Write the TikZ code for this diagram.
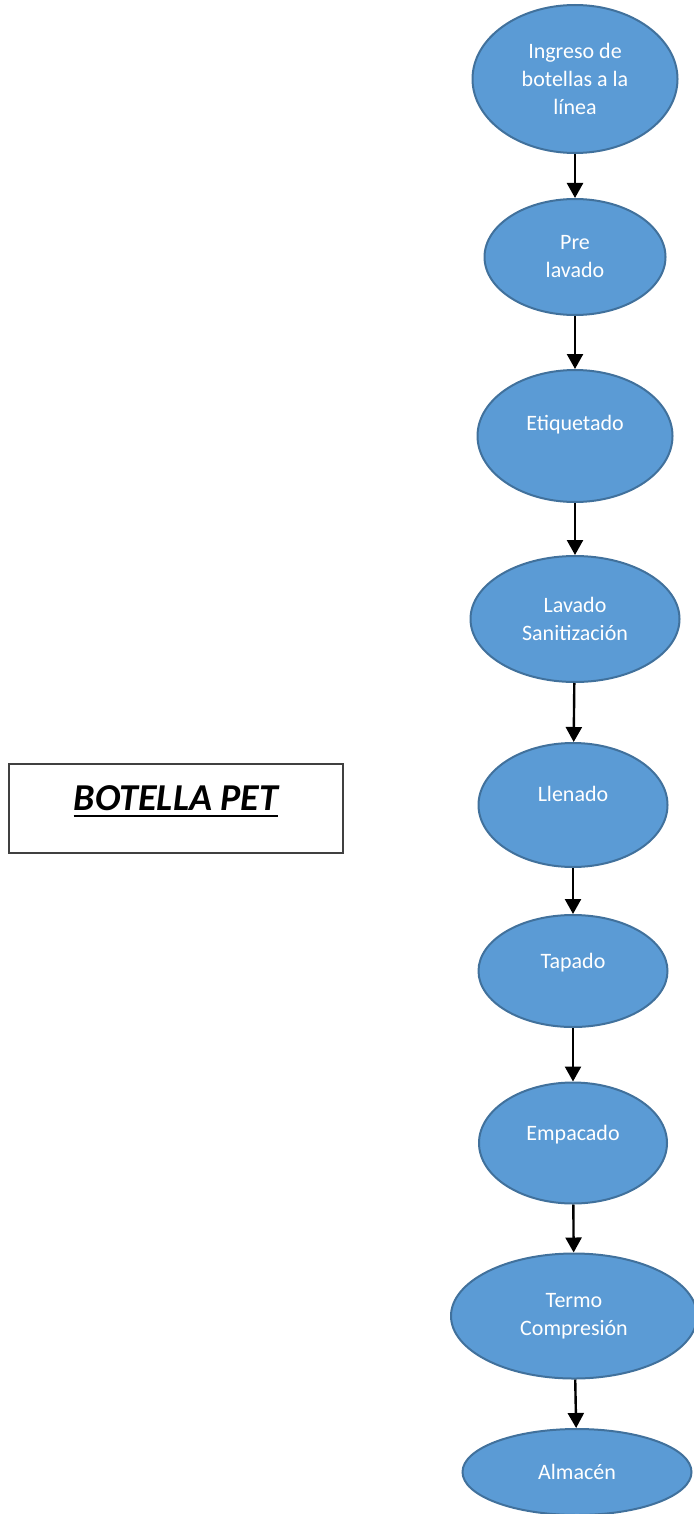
\documentclass[tikz,border=0pt]{standalone}
\usepackage{fontspec}
\setmainfont{Carlito}
\usetikzlibrary{shapes.geometric, arrows.meta, positioning}

\definecolor{pasofill}{HTML}{5B9BD5}
\definecolor{pasoline}{HTML}{41719C}

% thick underline for the title
\newcommand\subrayar[1]{\setbox0\hbox{#1}\leavevmode
  \rlap{\vrule height -2.4pt depth 3.5pt width \wd0}\box0}

\begin{document}
\begin{tikzpicture}[
  x=0.5pt, y=-0.5pt,
  % process ellipse; size given per node
  paso/.style={
    ellipse, draw=pasoline, line width=1pt,
    fill=pasofill, text=white,
    align=center, inner sep=2pt,
    font=\fontsize{11}{14}\selectfont
  },
  % lift text towards the top of the ellipse
  alto/.style={text height=8pt, text depth=#1},
  flecha/.style={-{Triangle[length=7.5pt,width=8pt]}, black, line width=1.2pt},
]
\useasboundingbox (0,0) rectangle (693,1514);

%% -- title box --------------------------------------------------------------
\node[draw=black!75, line width=0.75pt, minimum width=167pt, minimum height=44.5pt,
      text height=13pt, text depth=11.4pt,
      font=\fontsize{19}{22}\selectfont\bfseries\itshape] (titulo) at (176,808.5)
  {\subrayar{BOTELLA PET}};

%% -- process chain ----------------------------------------------------------
\node[paso, minimum width=102.5pt, minimum height=74pt] (ingreso) at (575,79)
  {Ingreso de\\botellas a la\\línea};
\node[paso, minimum width=90.5pt, minimum height=58pt] (prelavado) at (575,257)
  {Pre\\lavado};
\node[paso, alto=14pt, minimum width=97.5pt, minimum height=66pt] (etiquetado) at (575,436)
  {Etiquetado};
\node[paso, minimum width=104.5pt, minimum height=63pt] (lavado) at (575,619)
  {Lavado\\Sanitización};
\node[paso, alto=12pt, minimum width=94.5pt, minimum height=62pt] (llenado) at (573,805)
  {Llenado};
\node[paso, alto=11pt, minimum width=94.5pt, minimum height=56pt] (tapado) at (573,971)
  {Tapado};
\node[paso, alto=11pt, minimum width=94pt, minimum height=60.5pt] (empacado) at (573,1143)
  {Empacado};
\node[paso, minimum width=123pt, minimum height=62.5pt] (termo) at (574,1316)
  {Termo\\Compresión};
\node[paso, minimum width=114.5pt, minimum height=43pt] (almacen) at (577,1472)
  {Almacén};

%% -- arrows -----------------------------------------------------------------
\draw[flecha] (ingreso)    -- (prelavado);
\draw[flecha] (prelavado)  -- (etiquetado);
\draw[flecha] (etiquetado) -- (lavado);
\draw[flecha] (lavado)     -- (llenado);
\draw[flecha] (llenado)    -- (tapado);
\draw[flecha] (tapado)     -- (empacado);
\draw[flecha] (empacado)   -- (termo);
\draw[flecha] (termo)      -- (almacen);

\end{tikzpicture}
\end{document}
